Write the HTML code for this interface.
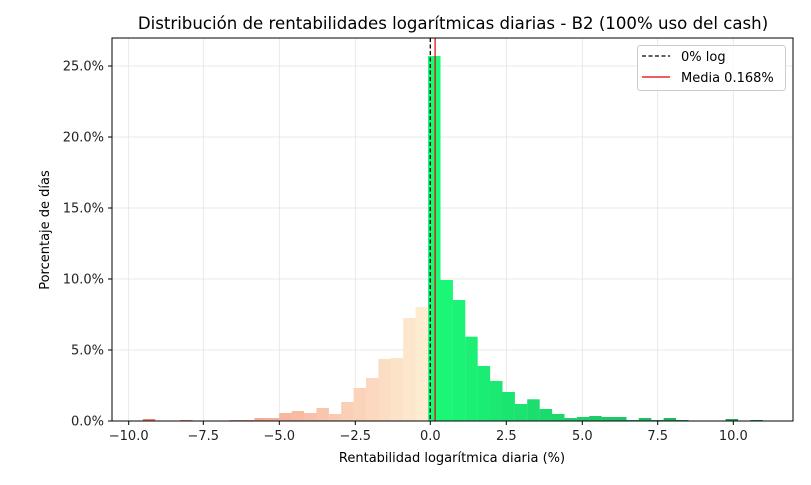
<!DOCTYPE html>
<html><head><meta charset="utf-8"><style>body{margin:0;background:#fff}</style></head>
<body>
<svg id="s" width="811" height="480" xmlns="http://www.w3.org/2000/svg" font-family="DejaVu Sans, Liberation Sans, sans-serif">
<rect width="811" height="480" fill="#fff"/>
<g id="grid" stroke="#e3e3e3" stroke-width="0.8"></g>
<g id="bars"></g>
<line x1="430.3" y1="38" x2="430.3" y2="421" stroke="#000" stroke-width="1.3" stroke-dasharray="4,2.5"/>
<line x1="435.1" y1="38" x2="435.1" y2="421" stroke="#e00000" stroke-width="1.2"/>
<rect x="112" y="38" width="681" height="383" fill="none" stroke="#000" stroke-width="1"/>
<g id="ticks" font-size="13" fill="#222"></g>
<text x="453" y="29" font-size="16.6" text-anchor="middle" fill="#000">Distribución de rentabilidades logarítmicas diarias - B2 (100% uso del cash)</text>
<text x="452" y="462" font-size="13" text-anchor="middle" fill="#000">Rentabilidad logarítmica diaria (%)</text>
<text transform="translate(49,230) rotate(-90)" font-size="13" text-anchor="middle" fill="#000">Porcentaje de días</text>
<rect x="637.5" y="45.5" width="148" height="45" rx="3" fill="#fff" fill-opacity="0.85" stroke="#ccc"/>
<line x1="642" y1="56" x2="670" y2="56" stroke="#000" stroke-width="1.3" stroke-dasharray="4,2.5"/>
<text x="681" y="61" font-size="13" fill="#000">0% log</text>
<line x1="642" y1="77" x2="670" y2="77" stroke="#e00000" stroke-width="1.2"/>
<text x="681" y="82" font-size="13" fill="#000">Media 0.168%</text>
</svg>
<script>
var ns="http://www.w3.org/2000/svg";
function el(p,t,a,txt){var e=document.createElementNS(ns,t);for(var k in a)e.setAttribute(k,a[k]);if(txt)e.textContent=txt;document.getElementById(p).appendChild(e);}
var xt=[[-10,128.7,"−10.0"],[-7.5,203.3,"−7.5"],[-5,279.3,"−5.0"],[-2.5,355.3,"−2.5"],[0,430.3,"0.0"],[2.5,506.3,"2.5"],[5,582.3,"5.0"],[7.5,657.7,"7.5"],[10,733.3,"10.0"]];
xt.forEach(function(t){el("grid","line",{x1:t[1],y1:38,x2:t[1],y2:421});el("ticks","line",{x1:t[1],y1:421,x2:t[1],y2:425,stroke:"#000"});el("ticks","text",{x:t[1],y:440,"text-anchor":"middle"},t[2]);});
for(var i=0;i<=5;i++){var y=421-i*71;el("grid","line",{x1:112,y1:y,x2:793,y2:y});el("ticks","line",{x1:108,y1:y,x2:112,y2:y,stroke:"#000"});el("ticks","text",{x:104,y:y+4.5,"text-anchor":"end"},(i*5).toFixed(1)+"%");}
var h={"-23":419,"-20":420,"-16":420,"-15":420,"-14":418,"-13":418,"-12":413,"-11":411,"-10":413,"-9":408,"-8":414,"-7":402,"-6":388,"-5":378,"-4":359,"-3":358,"-2":318,"-1":307,
"0":56,"1":280,"2":300,"3":336.7,"4":366,"5":381,"6":392,"7":404,"8":399.3,"9":409,"10":414,"11":418,"12":417,"13":416,"14":417,"15":417,"16":420,"17":418,"18":420,"19":418,"20":420,"24":419,"26":420};
for(var k in h){k=+k;var x=428+k*12.4,c;
if(k<0){var f=(k+1)/-22;c="rgb("+Math.round(253-13*f)+","+Math.round(236-108*f)+","+Math.round(208-96*f)+")";}
else{var f=k/26;c="rgb("+Math.round(26+6*f)+","+Math.round(250-90*f)+","+Math.round(120-30*f)+")";}
el("bars","rect",{x:x,y:h[k],width:12.5,height:421-h[k],fill:c});}
</script>
</body></html>
